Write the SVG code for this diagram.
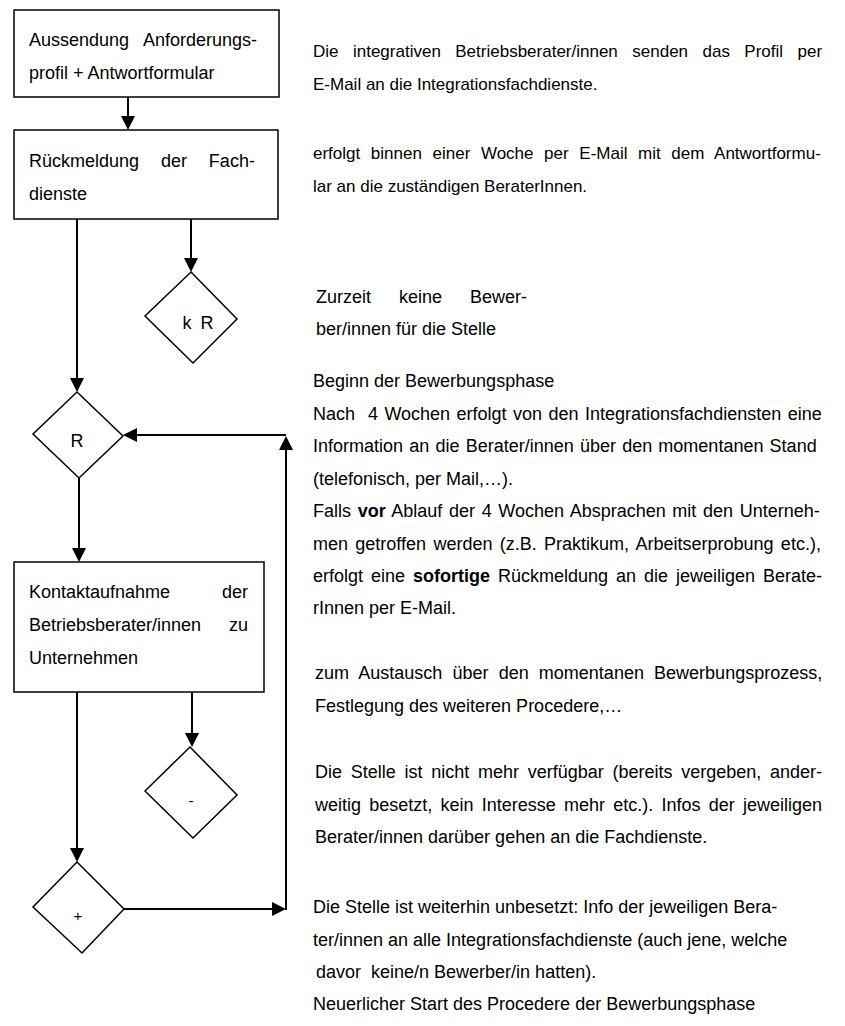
<svg xmlns="http://www.w3.org/2000/svg" width="845" height="1026" viewBox="0 0 845 1026">
<defs>
<marker id="ah" markerUnits="userSpaceOnUse" viewBox="0 0 14 14" refX="12" refY="7" markerWidth="14" markerHeight="14" orient="auto"><path d="M0,0 L14,7 L0,14 z" fill="#000"/></marker>
<style>
text{font-family:"Liberation Sans",Arial,sans-serif;font-size:18px;fill:#000}
.top{font-size:17px}
.box,.dia{fill:#fff;stroke:#000;stroke-width:1.5}
.con{fill:none;stroke:#000;stroke-width:2;marker-end:url(#ah)}
.lbl{text-anchor:middle;font-size:18px}
.sm{text-anchor:middle;font-size:15px}
.b{font-weight:bold}
</style>
</defs>
<rect width="845" height="1026" fill="#fff"/>
<g id="connectors">
<path class="con" d="M128,97 V128"/>
<path class="con" d="M77,219 V390"/>
<path class="con" d="M191,219 V270"/>
<path class="con" d="M79,478 V560"/>
<path class="con" d="M77,692 V860"/>
<path class="con" d="M192,692 V745"/>
<path class="con" d="M124,909 H284"/>
<path class="con" d="M286,910 V438"/>
<path class="con" d="M286,435 H125"/>
</g>
<g id="box1">
<rect class="box" x="14" y="10" width="265" height="87"/>
<text x="29" y="46" word-spacing="9.9">Aussendung Anforderungs-</text>
<text x="29" y="79">profil + Antwortformular</text>
</g>
<g id="box2">
<rect class="box" x="14" y="130" width="264" height="89"/>
<text x="29" y="167" word-spacing="16.9">Rückmeldung der Fach-</text>
<text x="29" y="200">dienste</text>
</g>
<g id="diamond-kR">
<polygon class="dia" points="191,272 237,319 193,363 145,316"/>
<text class="lbl" x="198" y="329" word-spacing="4">k R</text>
</g>
<g id="diamond-R">
<polygon class="dia" points="77,392 123,436 79,478 33,434"/>
<text class="lbl" x="77" y="447">R</text>
</g>
<g id="box3">
<rect class="box" x="14" y="562" width="250" height="130"/>
<text x="29" y="598" word-spacing="46.9">Kontaktaufnahme der</text>
<text x="29" y="631" word-spacing="22.9">Betriebsberater/innen zu</text>
<text x="29" y="664">Unternehmen</text>
</g>
<g id="diamond-minus">
<polygon class="dia" points="190,747 237,795 193,838 145,791"/>
<text class="sm" x="191" y="806">-</text>
</g>
<g id="diamond-plus">
<polygon class="dia" points="77,862 124,909 82,953 33,907"/>
<text class="sm" x="78" y="921">+</text>
</g>
<g id="notes">
<text class="top" x="313" y="57" word-spacing="9.72">Die integrativen Betriebsberater/innen senden das Profil per</text>
<text class="top" x="313" y="90">E-Mail an die Integrationsfachdienste.</text>
<text class="top" x="313" y="159" word-spacing="5.88">erfolgt binnen einer Woche per E-Mail mit dem Antwortformu-</text>
<text class="top" x="313" y="192">lar an die zuständigen BeraterInnen.</text>
<text x="316" y="303" word-spacing="23">Zurzeit keine Bewer-</text>
<text x="316" y="335">ber/innen für die Stelle</text>
<text x="313" y="387">Beginn der Bewerbungsphase</text>
<text x="313" y="420" xml:space="preserve" word-spacing="1.46">Nach  4 Wochen erfolgt von den Integrationsfachdiensten eine</text>
<text x="313" y="452" word-spacing="1.19">Information an die Berater/innen über den momentanen Stand</text>
<text x="313" y="485">(telefonisch, per Mail,…).</text>
<text x="313" y="517" word-spacing="1.64">Falls <tspan class="b">vor</tspan> Ablauf der 4 Wochen Absprachen mit den Unterneh-</text>
<text x="313" y="550" word-spacing="2.33">men getroffen werden (z.B. Praktikum, Arbeitserprobung etc.),</text>
<text x="313" y="582" word-spacing="2.97">erfolgt eine <tspan class="b">sofortige</tspan> Rückmeldung an die jeweiligen Berate-</text>
<text x="313" y="614">rInnen per E-Mail.</text>
<text x="315" y="679" word-spacing="5.18">zum Austausch über den momentanen Bewerbungsprozess,</text>
<text x="315" y="712">Festlegung des weiteren Procedere,…</text>
<text x="315" y="778" word-spacing="3.73">Die Stelle ist nicht mehr verfügbar (bereits vergeben, ander-</text>
<text x="315" y="811" word-spacing="3.23">weitig besetzt, kein Interesse mehr etc.). Infos der jeweiligen</text>
<text x="315" y="843">Berater/innen darüber gehen an die Fachdienste.</text>
<text x="313" y="913">Die Stelle ist weiterhin unbesetzt: Info der jeweiligen Bera-</text>
<text x="313" y="946">ter/innen an alle Integrationsfachdienste (auch jene, welche</text>
<text x="316" y="978" xml:space="preserve">davor  keine/n Bewerber/in hatten).</text>
<text x="313" y="1010">Neuerlicher Start des Procedere der Bewerbungsphase</text>
</g>
</svg>
